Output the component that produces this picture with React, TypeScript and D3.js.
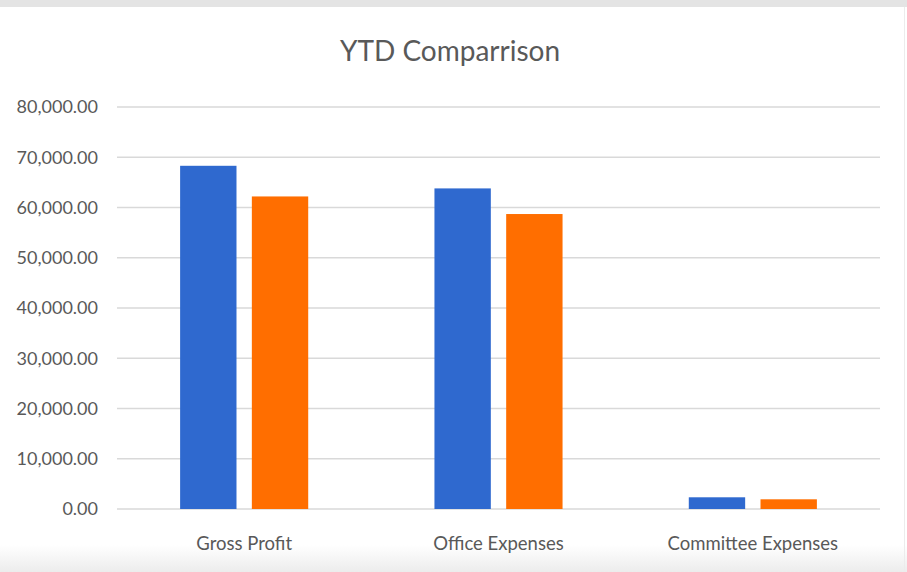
import React from 'react';
import * as d3 from 'd3';

const categories = ['Gross Profit', 'Office Expenses', 'Committee Expenses'];
const seriesNames = ['This Year', 'Last Year'];
const thisYear = [68300, 63800, 2330];
const lastYear = [62200, 58700, 1930];
const yTicks = [0, 10000, 20000, 30000, 40000, 50000, 60000, 70000, 80000];
const colors = ['#2f69cf', '#ff6e00'];

const W = 907;
const H = 572;
const font = 'Lato, "Open Sans", sans-serif';

const App = (): React.ReactElement => {
  const x0 = d3.scaleBand<string>().domain(categories).range([117, 880]);
  const x1 = d3
    .scaleBand<string>()
    .domain(seriesNames)
    .range([0, x0.bandwidth()])
    .paddingInner(0.214)
    .paddingOuter(0.88);
  const y = d3.scaleLinear().domain([0, 80000]).range([509, 107]);
  const fmt = d3.format(',.2f');

  const rows = categories.map((c, i) => ({ c, vals: [thisYear[i], lastYear[i]] }));

  return (
    <svg
      width={W}
      height={H}
      style={{ position: 'absolute', left: 0, top: 0, display: 'block' }}
    >
      <defs>
        <linearGradient id="bottomShade" x1="0" y1="0" x2="0" y2="1">
          <stop offset="0" stopColor="#ffffff" />
          <stop offset="1" stopColor="#ececec" />
        </linearGradient>
      </defs>
      <rect width={W} height={H} fill="#ffffff" />
      <rect x={0} y={0} width={W} height={7} fill="#e4e4e4" />
      <rect x={0} y={545} width={W} height={27} fill="url(#bottomShade)" />
      <line x1={904.5} x2={904.5} y1={7} y2={H} stroke="#ececec" />

      <text
        x={450}
        y={61}
        textAnchor="middle"
        fontFamily={font}
        fontSize={28}
        fill="#595959"
      >
        YTD Comparrison
      </text>

      <g>
        {yTicks.map((t) => (
          <g key={t}>
            <line x1={117} x2={880} y1={y(t)} y2={y(t)} stroke="#d9d9d9" strokeWidth={1.5} />
            <text
              x={98}
              y={y(t)}
              dy="0.35em"
              textAnchor="end"
              fontFamily={font}
              fontSize={18}
              fill="#595959"
            >
              {fmt(t)}
            </text>
          </g>
        ))}
      </g>

      <g>
        {rows.map((r) => (
          <g key={r.c} transform={`translate(${x0(r.c)},0)`}>
            {r.vals.map((v, j) => (
              <rect
                key={seriesNames[j]}
                x={x1(seriesNames[j])}
                y={y(v)}
                width={x1.bandwidth()}
                height={y(0) - y(v)}
                fill={colors[j]}
              />
            ))}
          </g>
        ))}
      </g>

      <g>
        {categories.map((c) => (
          <text
            key={c}
            x={(x0(c) ?? 0) + x0.bandwidth() / 2}
            y={550}
            textAnchor="middle"
            fontFamily={font}
            fontSize={18.5}
            fill="#595959"
          >
            {c}
          </text>
        ))}
      </g>
    </svg>
  );
};

export default App;
